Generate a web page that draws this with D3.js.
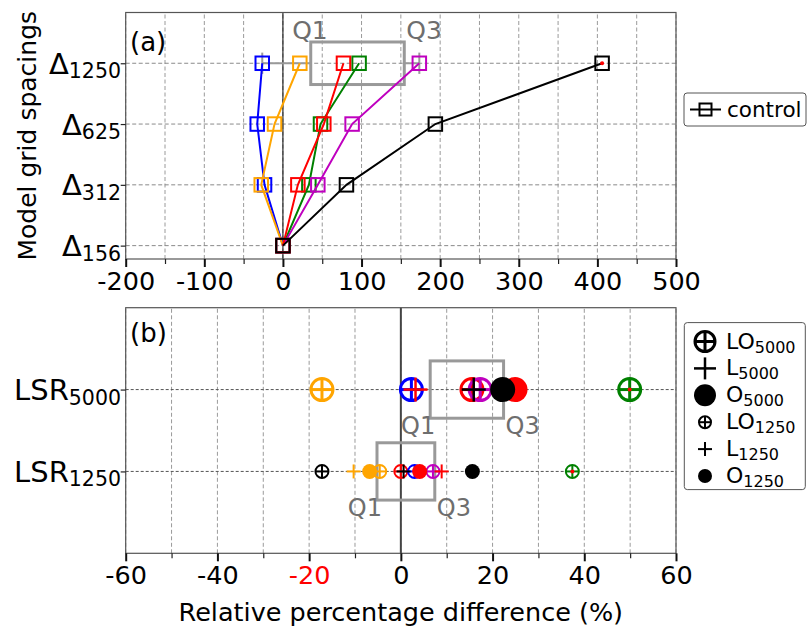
<!DOCTYPE html>
<html>
<head>
<meta charset="utf-8">
<script src="https://cdn.jsdelivr.net/npm/d3@7"></script>
<style>
  body { margin: 0; background: #fff; }
  svg { display: block; font-family: "DejaVu Sans", sans-serif; }
</style>
</head>
<body>
<svg id="chart" width="812" height="627"></svg>
<script>
// ---------- Panel (a): relative difference vs. model grid spacing ----------
const deltaSubs = ["156", "312", "625", "1250"];     // y categories, bottom to top
const blueRun    = [0, -23.4, -32.7, -26.3];
const orangeRun  = [0, -27.6, -10.7, 21.5];
const greenRun   = [0, 33.0, 47.8, 96.9];
const magentaRun = [0, 44.4, 88.0, 173.5];
const redRun     = [0, 19.0, 52.0, 77.0];
const controlRun = [0, 80.8, 193.9, 406.0];
const xTicksA = [-200, -100, 0, 100, 200, 300, 400, 500];

// ---------- Panel (b): relative difference per LSR experiment ----------
const lsrSubs = ["1250", "5000"];                    // y categories, bottom to top
const lo5000Colors = ["orange", "blue", "red", "magenta", "green"];
const lo5000Values = [-17.2, 2.3, 15.5, 17.3, 49.9];
const lo1250Colors = ["black", "orange", "red", "blue", "magenta", "green"];
const lo1250Values = [-17.2, -4.6, 0.0, 3.0, 7.0, 37.4];
const l5000Colors = ["red", "black"];
const l5000Values = [3.2, 15.9];
const l1250Colors = ["orange", "black", "red"];
const l1250Values = [-10.3, 0.6, 8.9];
const o5000Colors = ["red", "black"];
const o5000Values = [24.9, 22.2];
const o1250Colors = ["orange", "red", "black"];
const o1250Values = [-6.8, 4.1, 15.6];
const lsrQ1 = [-5.2, 6.4];   // lower quartile per row [LSR1250, LSR5000]
const lsrQ3 = [7.4, 22.4];   // upper quartile per row
const xTicksB = [-60, -40, -20, 0, 20, 40, 60];

const palette = {
  blue: "#0000ff", orange: "#ffa500", red: "#ff0000",
  green: "#008000", magenta: "#bf00bf", black: "#000000"
};

const svg = d3.select("#chart");
const FRAME = "#555";
const GRID = "#9a9a9a";
const BOXC = "#999";
const QTXT = "#6e6e6e";
const TICK_FS = 25.5;

// ---------- scales ----------
const xA = d3.scaleLinear().domain([-200, 500]).range([125.7, 676]);
const yA = d3.scaleLinear().domain([-0.22, 3.835]).range([259, 12.5]);
const xB = d3.scaleLinear().domain([-60, 60]).range([125.7, 676]);
const yB = d3.scaleLinear().domain([-1, 2]).range([553.3, 307.7]);

// ---------- helpers ----------
function gridLines(g, x, y, xVals, yVals, rowDash, rowColor) {
  const [x0, x1] = x.range(), [y0, y1] = y.range();
  g.selectAll(null).data(xVals).join("line")
    .attr("x1", d => x(d)).attr("x2", d => x(d))
    .attr("y1", y0).attr("y2", y1)
    .attr("stroke", GRID).attr("stroke-width", 1).attr("stroke-dasharray", "4,2.5");
  g.selectAll(null).data(yVals).join("line")
    .attr("x1", x0).attr("x2", x1)
    .attr("y1", d => y(d)).attr("y2", d => y(d))
    .attr("stroke", rowColor).attr("stroke-width", 1).attr("stroke-dasharray", rowDash);
}

function frame(x, y) {
  const [x0, x1] = x.range(), [y0, y1] = y.range();
  svg.append("rect").attr("x", x0).attr("y", y1)
    .attr("width", x1 - x0).attr("height", y0 - y1)
    .attr("fill", "none").attr("stroke", FRAME).attr("stroke-width", 1.2);
}

function bottomAxis(x, y, majors, minorStep, redTick) {
  const yPos = y.range()[0];
  const dom = x.domain();
  const minors = d3.range(dom[0], dom[1] + 0.001, minorStep).filter(v => !majors.includes(v));
  const gMin = svg.append("g").attr("transform", `translate(0,${yPos})`)
    .call(d3.axisBottom(x).tickValues(minors).tickSize(5).tickFormat(""));
  gMin.select(".domain").remove();
  gMin.selectAll("line").attr("stroke", "#222").attr("stroke-width", 1.2);
  const gMaj = svg.append("g").attr("transform", `translate(0,${yPos})`)
    .call(d3.axisBottom(x).tickValues(majors).tickSize(8).tickPadding(5).tickFormat(d => String(d)));
  gMaj.select(".domain").remove();
  gMaj.selectAll("line").attr("stroke", "#111").attr("stroke-width", 2);
  gMaj.selectAll("text")
    .attr("font-size", TICK_FS).attr("font-family", "DejaVu Sans")
    .attr("fill", d => d === redTick ? "#ff0000" : "#000");
}

function leftAxis(y, vals, prefix, subs) {
  const g = svg.append("g").attr("transform", `translate(${125.7},0)`)
    .call(d3.axisLeft(y).tickValues(vals).tickSize(5).tickFormat(""));
  g.select(".domain").remove();
  g.selectAll("line").attr("stroke", "#222").attr("stroke-width", 1.2);
  vals.forEach((v, i) => {
    const t = svg.append("text").attr("x", 121).attr("y", y(v) + 10.5)
      .attr("text-anchor", "end").attr("font-size", 29).attr("fill", "#000");
    t.append("tspan").text(prefix);
    t.append("tspan").attr("font-size", 20.5).attr("dy", 4.5).text(subs[i]);
  });
}

function drawLO(g, cx, cy, r, color, sw) {
  g.append("circle").attr("cx", cx).attr("cy", cy).attr("r", r)
    .attr("fill", "none").attr("stroke", color).attr("stroke-width", sw);
  g.append("line").attr("x1", cx - r).attr("x2", cx + r).attr("y1", cy).attr("y2", cy)
    .attr("stroke", color).attr("stroke-width", sw);
  g.append("line").attr("x1", cx).attr("x2", cx).attr("y1", cy - r).attr("y2", cy + r)
    .attr("stroke", color).attr("stroke-width", sw);
}
function drawL(g, cx, cy, h, color, sw) {
  g.append("line").attr("x1", cx - h).attr("x2", cx + h).attr("y1", cy).attr("y2", cy)
    .attr("stroke", color).attr("stroke-width", sw);
  g.append("line").attr("x1", cx).attr("x2", cx).attr("y1", cy - h).attr("y2", cy + h)
    .attr("stroke", color).attr("stroke-width", sw);
}
function drawO(g, cx, cy, r, color) {
  g.append("circle").attr("cx", cx).attr("cy", cy).attr("r", r).attr("fill", color);
}

// ================= Panel (a) =================
const gA = svg.append("g");
gridLines(gA, xA, yA, d3.range(-200, 501, 50), [0, 1, 2, 3], "4,2.5", "#8a8a8a");
gA.append("line").attr("x1", xA(0)).attr("x2", xA(0))
  .attr("y1", yA.range()[0]).attr("y2", yA.range()[1])
  .attr("stroke", "#000").attr("stroke-width", 1);

// box-and-whisker summary for the finest spacing row
const topRow = 3;
const rowVals = [blueRun, orangeRun, greenRun, magentaRun, redRun, controlRun]
  .map(r => r[topRow]).sort(d3.ascending);
const q1A = d3.quantile(rowVals, 0.25), q3A = d3.quantile(rowVals, 0.75);
const iqrA = q3A - q1A;
const inRange = rowVals.filter(v => v >= q1A - 1.5 * iqrA && v <= q3A + 1.5 * iqrA);
const whisLo = d3.min(inRange), whisHi = d3.max(inRange);
const fliersA = rowVals.filter(v => v < q1A - 1.5 * iqrA || v > q3A + 1.5 * iqrA);
const half = 0.35, cap = 0.175;
gA.append("line").attr("x1", xA(whisLo)).attr("x2", xA(q1A))
  .attr("y1", yA(topRow)).attr("y2", yA(topRow)).attr("stroke", BOXC).attr("stroke-width", 2);
gA.append("line").attr("x1", xA(q3A)).attr("x2", xA(whisHi))
  .attr("y1", yA(topRow)).attr("y2", yA(topRow)).attr("stroke", BOXC).attr("stroke-width", 2);
[whisLo, whisHi].forEach(v => gA.append("line")
  .attr("x1", xA(v)).attr("x2", xA(v))
  .attr("y1", yA(topRow + cap)).attr("y2", yA(topRow - cap))
  .attr("stroke", BOXC).attr("stroke-width", 2));
gA.append("rect").attr("x", xA(q1A)).attr("y", yA(topRow + half))
  .attr("width", xA(q3A) - xA(q1A)).attr("height", yA(topRow - half) - yA(topRow + half))
  .attr("fill", "none").attr("stroke", BOXC).attr("stroke-width", 3);
gA.append("text").attr("x", xA(q1A) + 17).attr("y", yA(topRow + half) - 3)
  .attr("text-anchor", "end").attr("font-size", 25).attr("fill", QTXT).text("Q1");
gA.append("text").attr("x", xA(q3A) + 2).attr("y", yA(topRow + half) - 3)
  .attr("font-size", 25).attr("fill", QTXT).text("Q3");

// experiment lines with open squares
const runsA = [
  [blueRun, palette.blue], [orangeRun, palette.orange], [greenRun, palette.green],
  [magentaRun, palette.magenta], [redRun, palette.red], [controlRun, palette.black]
];
const lineA = d3.line().x(d => xA(d.v)).y(d => yA(d.i));
const SQ = 13.5;
runsA.forEach(([vals, color]) => {
  const pts = vals.map((v, i) => ({ v, i }));
  gA.append("path").datum(pts).attr("d", lineA)
    .attr("fill", "none").attr("stroke", color).attr("stroke-width", 2);
  gA.selectAll(null).data(pts).join("rect")
    .attr("x", d => xA(d.v) - SQ / 2).attr("y", d => yA(d.i) - SQ / 2)
    .attr("width", SQ).attr("height", SQ)
    .attr("fill", "none").attr("stroke", color).attr("stroke-width", 2);
});
fliersA.forEach(v => gA.append("circle").attr("cx", xA(v)).attr("cy", yA(topRow))
  .attr("r", 2).attr("fill", "#ff0000"));

frame(xA, yA);
bottomAxis(xA, yA, xTicksA, 50, null);
leftAxis(yA, [0, 1, 2, 3], "\u0394", deltaSubs);
svg.append("text").attr("x", 130).attr("y", 51).attr("font-size", 26).text("(a)");
svg.append("text")
  .attr("transform", `translate(36,${(yA.range()[0] + yA.range()[1]) / 2}) rotate(-90)`)
  .attr("text-anchor", "middle").attr("font-size", 25).text("Model grid spacings");

// legend (a)
const legA = svg.append("g");
legA.append("rect").attr("x", 684).attr("y", 93).attr("width", 122).attr("height", 33)
  .attr("rx", 3).attr("fill", "#fff").attr("stroke", "#555").attr("stroke-width", 1);
legA.append("line").attr("x1", 690).attr("x2", 721).attr("y1", 109.5).attr("y2", 109.5)
  .attr("stroke", "#000").attr("stroke-width", 2);
legA.append("rect").attr("x", 705.5 - 6).attr("y", 109.5 - 6).attr("width", 12).attr("height", 12)
  .attr("fill", "none").attr("stroke", "#000").attr("stroke-width", 2);
legA.append("text").attr("x", 727).attr("y", 117).attr("font-size", 21.5).text("control");

// ================= Panel (b) =================
const gB = svg.append("g");
gridLines(gB, xB, yB, d3.range(-60, 61, 10), [0, 1], "3,2", "#555");
gB.append("line").attr("x1", xB(0)).attr("x2", xB(0))
  .attr("y1", yB.range()[0]).attr("y2", yB.range()[1])
  .attr("stroke", "#444").attr("stroke-width", 2);

// quartile boxes
lsrSubs.forEach((s, i) => {
  gB.append("rect").attr("x", xB(lsrQ1[i])).attr("y", yB(i + half))
    .attr("width", xB(lsrQ3[i]) - xB(lsrQ1[i])).attr("height", yB(i - half) - yB(i + half))
    .attr("fill", "none").attr("stroke", BOXC).attr("stroke-width", 3);
  gB.append("text").attr("x", xB(lsrQ1[i]) + 5).attr("y", yB(i - half) + 15.5)
    .attr("text-anchor", "end").attr("font-size", 24).attr("fill", QTXT).text("Q1");
  gB.append("text").attr("x", xB(lsrQ3[i]) + 2).attr("y", yB(i - half) + 15.5)
    .attr("font-size", 24).attr("fill", QTXT).text("Q3");
});

// markers: open-crossed circles, crosses, then filled circles
lo5000Values.forEach((v, k) => drawLO(gB, xB(v), yB(1), 11, palette[lo5000Colors[k]], 3));
lo1250Values.forEach((v, k) => drawLO(gB, xB(v), yB(0), 6.5, palette[lo1250Colors[k]], 2));
l5000Values.forEach((v, k) => drawL(gB, xB(v), yB(1), 12, palette[l5000Colors[k]], 2.5));
l1250Values.forEach((v, k) => drawL(gB, xB(v), yB(0), 7, palette[l1250Colors[k]], 2));
o5000Values.forEach((v, k) => drawO(gB, xB(v), yB(1), 12.5, palette[o5000Colors[k]]));
o1250Values.forEach((v, k) => drawO(gB, xB(v), yB(0), 7.5, palette[o1250Colors[k]]));

// outliers beyond 1.5 IQR of each row
const rowsB = [
  [...lo1250Values, ...l1250Values, ...o1250Values],
  [...lo5000Values, ...l5000Values, ...o5000Values]
];
rowsB.forEach((vals, i) => {
  const iqr = lsrQ3[i] - lsrQ1[i];
  vals.filter(v => v < lsrQ1[i] - 1.5 * iqr || v > lsrQ3[i] + 1.5 * iqr)
    .forEach(v => gB.append("circle").attr("cx", xB(v)).attr("cy", yB(i))
      .attr("r", 2).attr("fill", "#ff0000"));
});

frame(xB, yB);
bottomAxis(xB, yB, xTicksB, 10, -20);
leftAxis(yB, [0, 1], "LSR", lsrSubs);
svg.append("text").attr("x", 130).attr("y", 342).attr("font-size", 26).text("(b)");
svg.append("text").attr("x", (xB.range()[0] + xB.range()[1]) / 2).attr("y", 621)
  .attr("text-anchor", "middle").attr("font-size", 25.5)
  .text("Relative percentage difference (%)");

// legend (b)
const legB = svg.append("g");
legB.append("rect").attr("x", 684.3).attr("y", 322.6).attr("width", 121).attr("height", 167)
  .attr("rx", 3).attr("fill", "#fff").attr("stroke", "#555").attr("stroke-width", 1);
const legItems = [
  ["LO", "5000"], ["L", "5000"], ["O", "5000"],
  ["LO", "1250"], ["L", "1250"], ["O", "1250"]
];
const legY = d3.scaleLinear().domain([0, 5]).range([341.5, 476]);
legItems.forEach(([main, sub], k) => {
  const cy = legY(k), cx = 705;
  if (k === 0) drawLO(legB, cx, cy, 10, "#000", 3);
  if (k === 1) drawL(legB, cx, cy, 11, "#000", 2.5);
  if (k === 2) drawO(legB, cx, cy, 11, "#000");
  if (k === 3) drawLO(legB, cx, cy, 6, "#000", 2);
  if (k === 4) drawL(legB, cx, cy, 7, "#000", 2);
  if (k === 5) drawO(legB, cx, cy, 7, "#000");
  const t = legB.append("text").attr("x", 726).attr("y", cy + 7).attr("font-size", 22);
  t.append("tspan").text(main);
  t.append("tspan").attr("font-size", 16).attr("dy", 4).text(sub);
});
</script>
</body>
</html>
